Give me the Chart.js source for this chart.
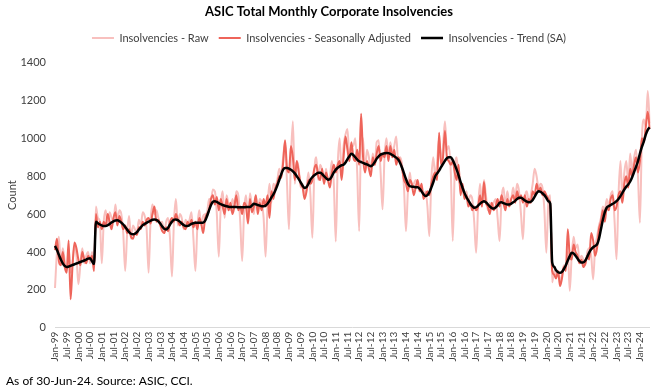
<!DOCTYPE html>
<html>
<head>
<meta charset="utf-8">
<script src="https://cdn.jsdelivr.net/npm/chart.js@4"></script>
<style>
    body { margin: 0; background: #ffffff; }
</style>
</head>
<body>
<canvas id="insolvencies" width="656" height="388"></canvas>
<script>
// months Jan-99 .. Jun-24
const monthNames = ['Jan', 'Feb', 'Mar', 'Apr', 'May', 'Jun', 'Jul', 'Aug', 'Sep', 'Oct', 'Nov', 'Dec'];
const categories = [];
for (let y = 1999; y <= 2024; y++) {
    for (let m = 0; m < 12; m++) {
        if (y === 2024 && m > 5) break;
        categories.push(monthNames[m] + '-' + String(y).slice(2));
    }
}

const rawValues = [
    210, 400, 480, 330, 420, 350, 300, 420, 290, 340, 430, 380,
    230, 330, 420, 340, 380, 400, 340, 400, 330, 640, 580, 560,
    340, 560, 620, 540, 610, 580, 560, 650, 560, 620, 600, 500,
    300, 500, 590, 470, 540, 520, 500, 570, 540, 610, 590, 520,
    290, 560, 650, 600, 620, 580, 550, 560, 500, 560, 580, 470,
    270, 560, 680, 540, 600, 580, 520, 570, 550, 570, 610, 470,
    300, 530, 620, 540, 590, 600, 610, 680, 680, 730, 720, 600,
    375, 640, 720, 580, 700, 650, 620, 680, 640, 720, 700, 560,
    352, 620, 700, 560, 710, 640, 600, 700, 620, 680, 660, 580,
    375, 640, 760, 660, 760, 750, 780, 840, 800, 900, 980, 760,
    520, 900, 1090, 760, 880, 840, 740, 760, 700, 740, 820, 700,
    475, 820, 900, 780, 860, 830, 760, 840, 780, 800, 880, 760,
    455, 860, 1000, 800, 960, 1020, 1050, 900, 960, 960, 1000, 820,
    510, 1000, 1000, 820, 940, 900, 830, 920, 860, 980, 990, 820,
    625, 900, 1000, 900, 980, 920, 960, 1010, 880, 900, 860, 740,
    510, 720, 820, 740, 760, 780, 760, 740, 740, 700, 720, 640,
    484, 780, 900, 800, 880, 1000, 880, 960, 1090, 940, 960, 820,
    458, 820, 900, 780, 760, 740, 700, 720, 660, 700, 680, 560,
    396, 640, 760, 640, 780, 700, 620, 660, 640, 660, 680, 580,
    458, 680, 740, 640, 720, 660, 680, 740, 680, 760, 720, 600,
    467, 680, 720, 660, 700, 760, 840, 800, 740, 760, 740, 620,
    396, 660, 700, 240, 300, 280, 290, 250, 280, 330, 320, 400,
    195, 380, 480, 420, 440, 360, 380, 360, 330, 400, 420, 380,
    256, 420, 480, 540, 580, 640, 620, 680, 640, 700, 720, 560,
    361, 700, 880, 680, 820, 880, 760, 920, 820, 900, 940, 800,
    554, 1000, 1100, 1060, 1250, 1080
];

const saValues = [
    410, 470, 350, 330, 400, 320, 290, 460, 150, 330, 450, 420,
    360, 330, 400, 360, 340, 380, 360, 380, 300, 600, 530, 560,
    520, 560, 540, 600, 560, 520, 580, 610, 540, 590, 560, 520,
    540, 500, 520, 480, 470, 500, 490, 530, 520, 560, 540, 570,
    580, 550, 600, 640, 560, 570, 540, 510, 500, 530, 510, 560,
    580, 560, 600, 570, 540, 560, 530, 520, 560, 540, 570, 530,
    560, 520, 580, 550, 500, 580, 600, 620, 680, 700, 650, 690,
    620, 680, 640, 600, 680, 620, 660, 600, 640, 700, 620, 640,
    600, 660, 640, 550, 680, 610, 640, 700, 600, 660, 620, 680,
    640, 700, 580, 720, 680, 740, 760, 800, 790, 870, 990, 840,
    820, 960, 900, 780, 880, 820, 760, 740, 680, 720, 780, 760,
    780, 840, 860, 800, 780, 840, 760, 820, 780, 740, 820, 860,
    820, 860, 880, 780, 900, 1010, 940, 880, 980, 900, 880, 940,
    860, 1130, 900, 820, 880, 840, 800, 900, 860, 920, 960, 880,
    920, 900, 960, 880, 960, 900, 940, 860, 900, 880, 840, 780,
    760, 720, 780, 760, 700, 740, 780, 720, 760, 680, 700, 720,
    700, 760, 800, 820, 780, 1030, 860, 900, 1040, 900, 880, 860,
    880, 820, 780, 860, 700, 760, 680, 700, 640, 660, 620, 640,
    620, 640, 700, 640, 770, 660, 640, 600, 660, 620, 640, 680,
    640, 700, 660, 620, 680, 640, 680, 700, 660, 720, 680, 700,
    660, 700, 640, 680, 660, 720, 700, 760, 720, 740, 700, 720,
    700, 680, 640, 300, 280, 260, 300, 220, 260, 320, 300, 520,
    380, 360, 440, 400, 380, 340, 360, 320, 340, 380, 360, 500,
    460, 380, 420, 520, 560, 620, 560, 640, 620, 680, 700, 620,
    640, 700, 720, 660, 760, 800, 740, 840, 800, 860, 900, 820,
    880, 1000, 980, 1060, 1140, 1050
];

const trendValues = [
    432, 410, 385, 360, 340, 326, 320, 323, 327, 331, 335, 339,
    343, 347, 351, 355, 360, 365, 367, 350, 336, 560, 552, 545,
    540, 537, 537, 541, 548, 556, 562, 566, 567, 563, 555, 545,
    532, 518, 505, 496, 493, 496, 505, 518, 530, 542, 548, 554,
    560, 565, 570, 572, 570, 562, 550, 535, 522, 519, 528, 545,
    560, 570, 572, 568, 560, 550, 542, 537, 537, 542, 548, 552,
    554, 554, 554, 554, 555, 565, 590, 620, 648, 665, 668, 664,
    658, 652, 648, 644, 641, 639, 637, 637, 637, 637, 636, 636,
    636, 636, 637, 637, 637, 645, 654, 652, 648, 645, 642, 642,
    645, 655, 670, 688, 704, 725, 750, 780, 810, 835, 844, 843,
    840, 834, 826, 815, 800, 785, 768, 750, 738, 742, 760, 782,
    795, 805, 812, 818, 818, 812, 800, 790, 782, 785, 800, 820,
    835, 845, 852, 858, 861, 872, 890, 905, 918, 912, 900, 888,
    879, 875, 870, 866, 862, 857, 853, 860, 875, 893, 905, 914,
    918, 921, 923, 922, 918, 912, 905, 898, 888, 870, 845, 815,
    785, 760, 747, 745, 744, 742, 742, 735, 720, 705, 695, 700,
    715, 740, 768, 800, 815, 830, 848, 865, 882, 895, 900, 900,
    885, 862, 835, 805, 770, 740, 712, 690, 672, 655, 642, 633,
    636, 645, 655, 663, 668, 662, 652, 640, 632, 630, 635, 645,
    660, 662, 658, 654, 651, 651, 655, 662, 670, 680, 686, 686,
    680, 672, 666, 663, 665, 675, 692, 710, 721, 718, 710, 700,
    685, 668, 655, 344, 322, 303, 293, 290, 295, 310, 330, 355,
    378, 396, 392, 380, 365, 352, 344, 345, 355, 375, 398, 414,
    425, 432, 440, 470, 520, 570, 610, 635, 642, 648, 654, 660,
    668, 680, 695, 712, 730, 745, 756, 772, 795, 822, 850, 880,
    920, 955, 984, 1020, 1045, 1058
];

const yTicks = [0, 200, 400, 600, 800, 1000, 1200, 1400];

const fontFamily = 'Lato, "Liberation Sans", sans-serif';

// a bit more room under the legend, like the original
const legendGap = {
    id: 'legendGap',
    beforeInit(chart) {
        const fit = chart.legend.fit;
        chart.legend.fit = function () {
            fit.bind(chart.legend)();
            this.height += 9;
        };
    }
};

let insolvencies = document.getElementById('insolvencies').getContext('2d');
new Chart(insolvencies, {
    type: 'line',
    data: {
        labels: categories,
        datasets: [
            {
                label: 'Insolvencies - Raw',
                data: rawValues,
                borderColor: 'rgb(248,192,190)',
                backgroundColor: 'rgb(248,192,190)',
                borderWidth: 2,
                order: 3
            },
            {
                label: 'Insolvencies - Seasonally Adjusted',
                data: saValues,
                borderColor: 'rgb(238,100,90)',
                backgroundColor: 'rgb(238,100,90)',
                borderWidth: 2,
                order: 2
            },
            {
                label: 'Insolvencies - Trend (SA)',
                data: trendValues,
                borderColor: '#000000',
                backgroundColor: '#000000',
                borderWidth: 2.5,
                order: 1
            }
        ]
    },
    plugins: [legendGap],
    options: {
        responsive: false,
        animation: false,
        cubicInterpolationMode: 'monotone',
        elements: {
            point: { radius: 0 }
        },
        layout: {
            padding: { left: 6, right: 4, top: 2, bottom: 0 }
        },
        plugins: {
            title: {
                display: true,
                text: 'ASIC Total Monthly Corporate Insolvencies',
                color: '#000000',
                font: { family: fontFamily, size: 13, weight: 'bold' },
                padding: { top: 2, bottom: 3 }
            },
            subtitle: {
                display: true,
                position: 'bottom',
                align: 'start',
                text: 'As of 30-Jun-24. Source: ASIC, CCI.',
                color: '#000000',
                font: { family: fontFamily, size: 12 },
                padding: { top: 8, bottom: 0 }
            },
            legend: {
                display: true,
                labels: {
                    usePointStyle: true,
                    pointStyle: 'line',
                    pointStyleWidth: 22,
                    color: '#404040',
                    font: { family: fontFamily, size: 11 },
                    padding: 10,
                    // keep legend in dataset order
                    sort: (a, b) => a.datasetIndex - b.datasetIndex
                }
            },
            tooltip: { enabled: false }
        },
        scales: {
            x: {
                grid: { display: false, drawTicks: false },
                border: { display: true, color: '#d9d9d9', width: 1 },
                ticks: {
                    autoSkip: false,
                    minRotation: 90,
                    maxRotation: 90,
                    color: '#404040',
                    font: { family: fontFamily, size: 10 },
                    padding: 4,
                    callback: function (value, index) {
                        return index % 6 === 0 ? categories[index] : null;
                    }
                }
            },
            y: {
                min: 0,
                max: 1400,
                grid: { display: false, drawTicks: false },
                border: { display: false },
                afterBuildTicks: function (axis) {
                    axis.ticks = yTicks.map(v => ({ value: v }));
                },
                // fixed axis width so the plot starts where the original does
                afterFit: function (axis) {
                    axis.width = 49;
                },
                ticks: {
                    color: '#404040',
                    font: { family: fontFamily, size: 11 },
                    padding: 9,
                    callback: function (value) {
                        return String(value);
                    }
                },
                title: {
                    display: true,
                    text: 'Count',
                    color: '#404040',
                    font: { family: fontFamily, size: 11 },
                    padding: { top: 0, bottom: 4 }
                }
            }
        }
    }
});
</script>
</body>
</html>
